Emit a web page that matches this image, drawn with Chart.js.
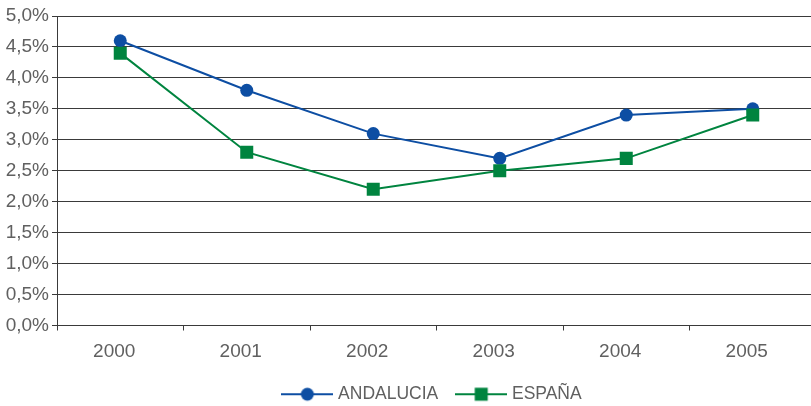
<!DOCTYPE html>
<html>
<head>
<meta charset="utf-8">
<script src="https://cdn.jsdelivr.net/npm/chart.js@4.4.1/dist/chart.umd.min.js"></script>
<style>
  html, body { margin: 0; padding: 0; background: #fff; overflow: hidden; }
</style>
</head>
<body>
<canvas id="chart" width="811" height="406"></canvas>
<script>
// ========== DATA ==========
const years = ["2000", "2001", "2002", "2003", "2004", "2005"];
const andalucia = [4.6, 3.8, 3.1, 2.7, 3.4, 3.5];
const espana = [4.4, 2.8, 2.2, 2.5, 2.7, 3.4];
const seriesNames = ["ANDALUCIA", "ESPAÑA"];

const BLUE = "#0d4ea3";
const GREEN = "#00843f";
const TEXT = "#606060";
const GRID = "#3a3a3a";
const FONT = "'Liberation Sans', Arial, sans-serif";

// legend swatch: line with marker in the middle
function legendSwatch(color, shape) {
  const c = document.createElement("canvas");
  c.width = 52;
  c.height = 16;
  const g = c.getContext("2d");
  g.strokeStyle = color;
  g.lineWidth = 2;
  g.beginPath();
  g.moveTo(0, 8);
  g.lineTo(52, 8);
  g.stroke();
  g.fillStyle = color;
  if (shape === "circle") {
    g.beginPath();
    g.arc(26, 8, 6.5, 0, Math.PI * 2);
    g.fill();
  } else {
    g.fillRect(19.5, 1.5, 13, 13);
  }
  return c;
}

const swatches = [legendSwatch(BLUE, "circle"), legendSwatch(GREEN, "rect")];

// legend centred under the plot; plot runs a little past the right edge
const layoutTweaks = {
  id: "layoutTweaks",
  afterLayout(chart) {
    if (chart.legend) {
      chart.legend.left += 28;
      chart.legend.right += 28;
    }
    const x = chart.scales.x;
    const extra = 5;
    chart.chartArea.right += extra;
    x.right += extra;
    x.width += extra;
    x.configure();
  },
};

new Chart(document.getElementById("chart"), {
  type: "line",
  data: {
    labels: years,
    datasets: [
      {
        label: seriesNames[0],
        data: andalucia,
        borderColor: BLUE,
        backgroundColor: BLUE,
        borderWidth: 2,
        pointStyle: "circle",
        pointRadius: 6.5,
        pointHoverRadius: 6.5,
        pointBorderWidth: 0,
        tension: 0,
        order: 1,
      },
      {
        label: seriesNames[1],
        data: espana,
        borderColor: GREEN,
        backgroundColor: GREEN,
        borderWidth: 2,
        pointStyle: "rect",
        pointRadius: 9.2,
        pointHoverRadius: 9.2,
        pointBorderWidth: 0,
        tension: 0,
        order: 0,
      },
    ],
  },
  options: {
    responsive: false,
    animation: false,
    layout: { autoPadding: false, padding: { top: 16, right: 0, left: 0, bottom: -7 } },
    plugins: {
      tooltip: { enabled: false },
      legend: {
        display: true,
        position: "bottom",
        labels: {
          usePointStyle: true,
          pointStyleWidth: 44,
          padding: 21,
          color: TEXT,
          font: { family: FONT, size: 17.5 },
          generateLabels: () =>
            seriesNames.map((name, i) => ({
              text: name,
              pointStyle: swatches[i],
              fillStyle: "transparent",
              strokeStyle: "transparent",
              lineWidth: 0,
              fontColor: TEXT,
              datasetIndex: i,
              hidden: false,
            })),
        },
      },
    },
    scales: {
      x: {
        offset: true,
        border: { display: true, color: GRID, width: 1 },
        grid: {
          offset: true,
          drawOnChartArea: false,
          drawTicks: true,
          tickLength: 5,
          color: GRID,
        },
        ticks: {
          color: TEXT,
          padding: 10,
          labelOffset: -6,
          font: { family: FONT, size: 19 },
        },
        afterFit: (scale) => { scale.height = 39; },
      },
      y: {
        min: 0,
        max: 5,
        border: { display: true, color: GRID, width: 1 },
        grid: { color: GRID, tickLength: 5, lineWidth: 1 },
        ticks: {
          stepSize: 0.5,
          color: TEXT,
          padding: 3,
          font: { family: FONT, size: 19 },
          callback: (v) => v.toFixed(1).replace(".", ",") + "%",
        },
        afterFit: (scale) => { scale.width = 57; },
      },
    },
  },
  plugins: [layoutTweaks],
});
</script>
</body>
</html>
